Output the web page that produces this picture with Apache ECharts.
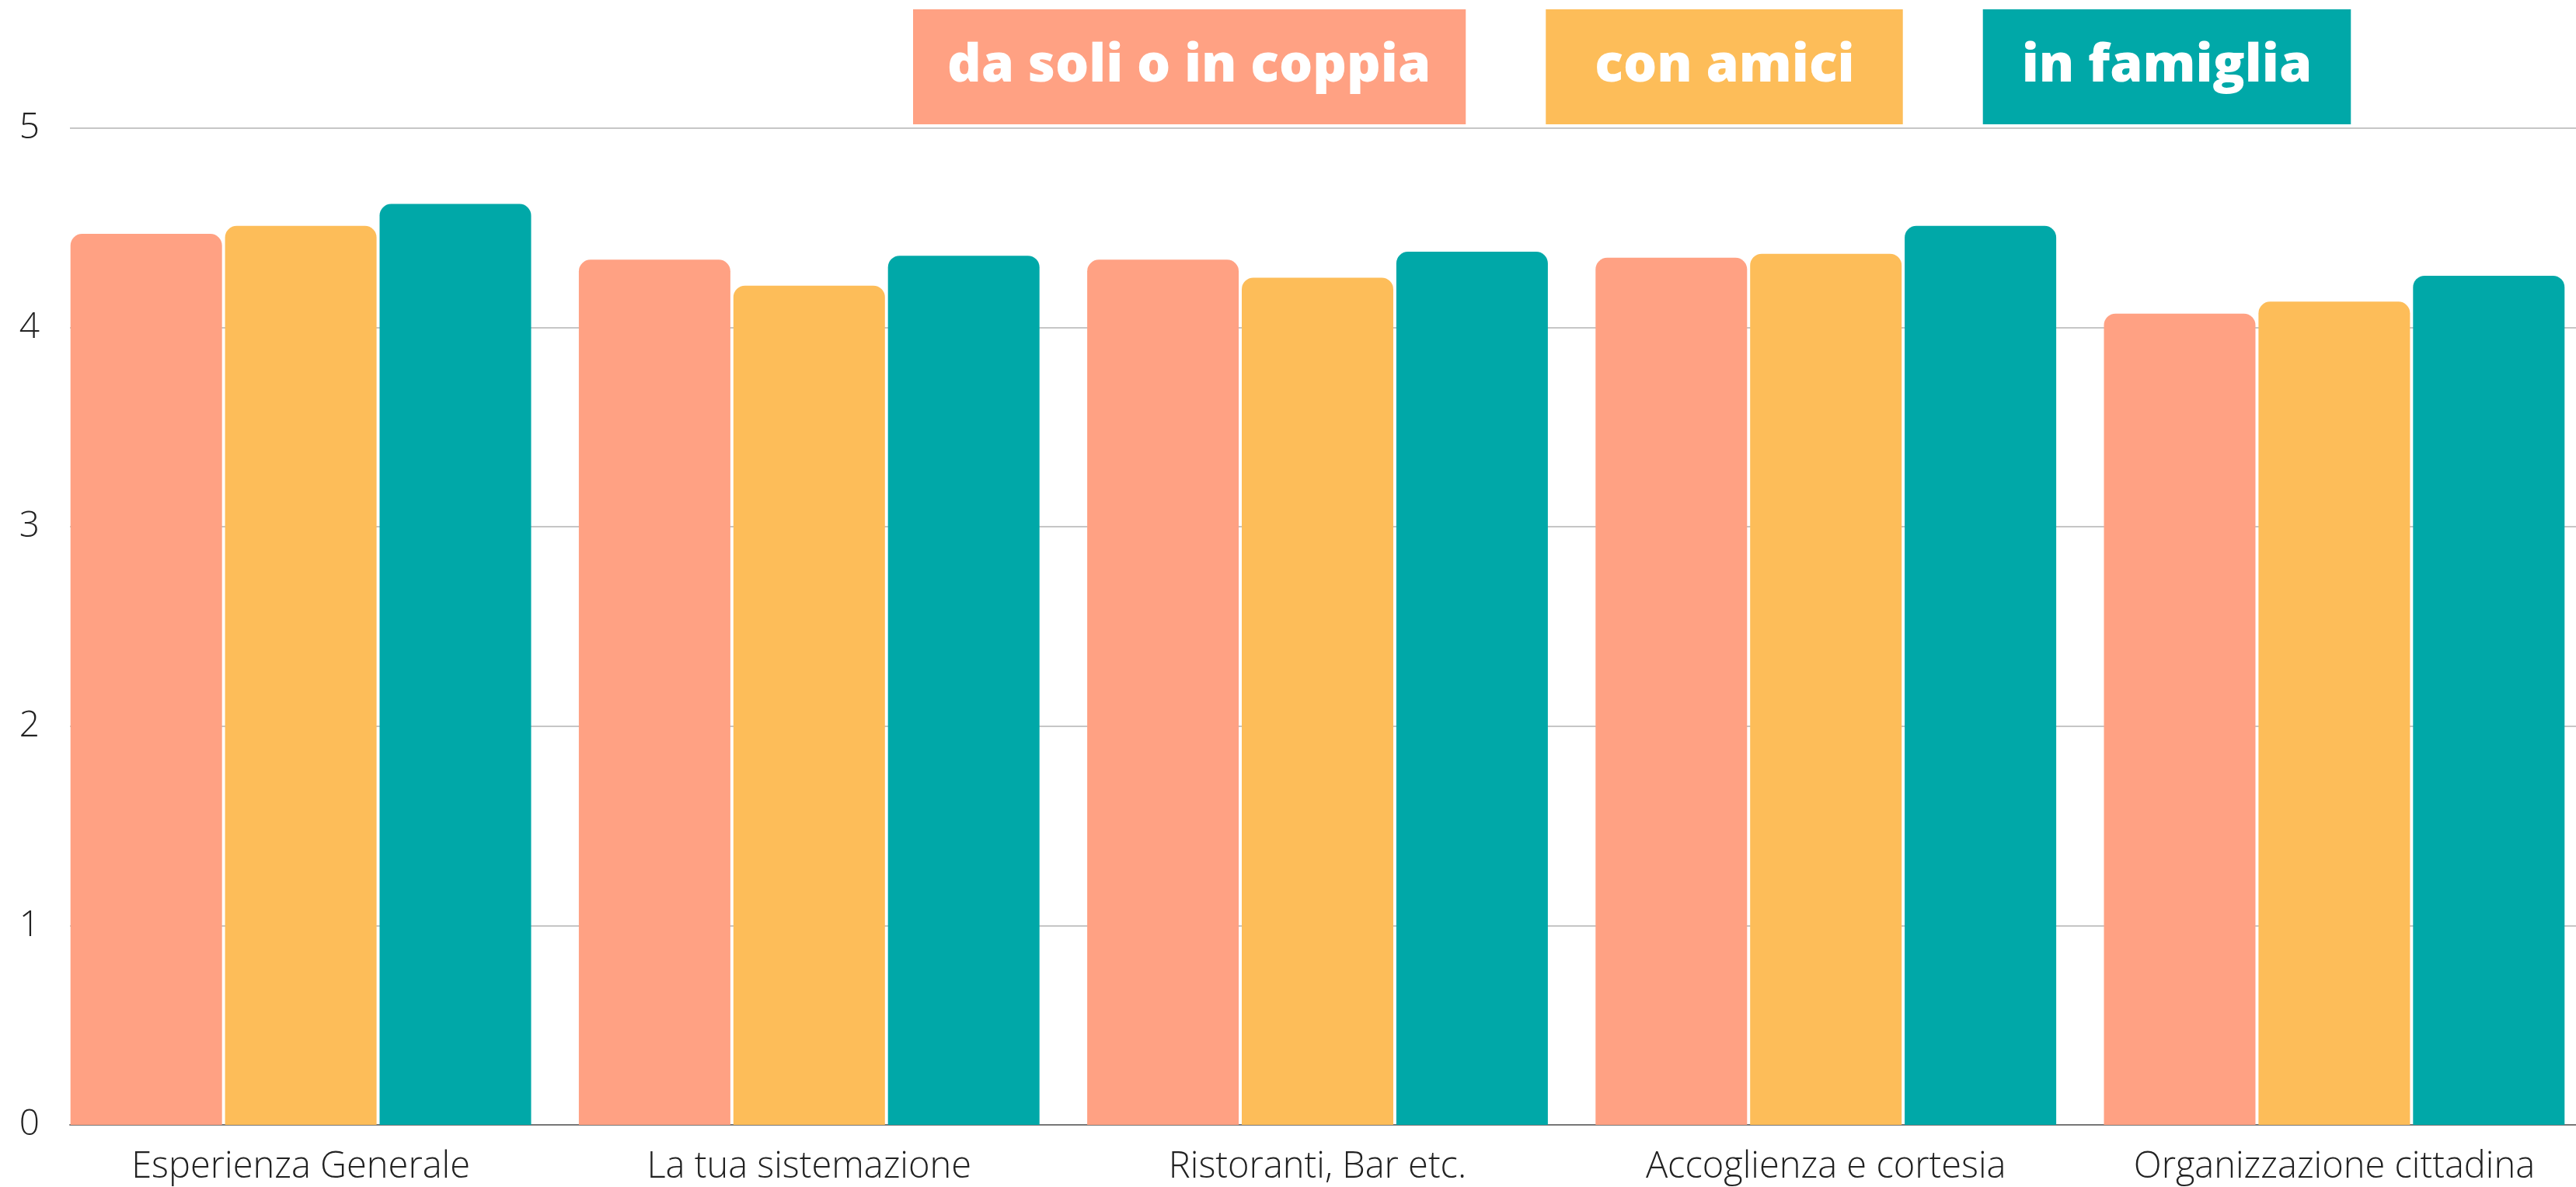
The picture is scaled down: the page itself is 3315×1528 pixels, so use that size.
<!DOCTYPE html>
<html>
<head>
<meta charset="utf-8">
<script src="https://cdn.jsdelivr.net/npm/echarts@6/dist/echarts.min.js"></script>
<style>
  html, body { margin: 0; padding: 0; background: #fff; overflow: hidden; }
  /* il div è un po' più largo della finestra: l'ultimo gruppo esce a destra */
  #chart { width: 3340px; height: 1528px; }
</style>
</head>
<body>
<div id="chart"></div>
<script>
const categories = [
  "Esperienza Generale",
  "La tua sistemazione",
  "Ristoranti, Bar etc.",
  "Accoglienza e cortesia",
  "Organizzazione cittadina",
];
const soliCoppia = [4.47, 4.34, 4.34, 4.35, 4.07];
const conAmici = [4.51, 4.21, 4.25, 4.37, 4.13];
const inFamiglia = [4.62, 4.36, 4.38, 4.51, 4.26];
const yTicks = [0, 1, 2, 3, 4, 5];

const colors = ["#FFA183", "#FDBD59", "#00A8A8"];
const labelFont = "'Open Sans', 'Noto Sans', sans-serif";

const chart = echarts.init(document.getElementById("chart"));

function legendItem(name, color, pad) {
  return {
    name: name,
    textStyle: {
      color: "#fff",
      backgroundColor: color,
      padding: pad,
    },
  };
}

const option = {
  animation: false,
  color: colors,
  legend: {
    top: 12,
    left: 1170,
    padding: 0,
    icon: "none",
    itemWidth: 0,
    itemHeight: 0,
    itemGap: 98,
    selectedMode: false,
    textStyle: {
      fontFamily: "'Open Sans', Lato, sans-serif",
      fontWeight: 800,
      fontSize: 68,
      lineHeight: 68,
    },
    data: [
      legendItem("da soli o in coppia", colors[0], [40, 45, 40, 44]),
      legendItem("con amici", colors[1], [40, 62, 40, 63]),
      legendItem("in famiglia", colors[2], [40, 50, 40, 50]),
    ],
  },
  // grid 0: barre, grid 1: linee griglia + etichette y
  grid: [
    { left: 60, right: 9, top: 165, bottom: 80 },
    { left: 90, right: 25, top: 165, bottom: 80 },
  ],
  xAxis: [
    {
      gridIndex: 0,
      type: "category",
      data: categories,
      axisLine: { show: false },
      axisTick: { show: false },
      axisLabel: {
        margin: 31,
        color: "#222",
        fontFamily: labelFont,
        fontWeight: 300,
        fontSize: 47,
        interval: 0,
      },
    },
    {
      gridIndex: 1,
      type: "value",
      min: 0,
      max: 1,
      axisLine: { show: true, lineStyle: { color: "#777", width: 2 } },
      axisTick: { show: false },
      axisLabel: { show: false },
      splitLine: { show: false },
    },
  ],
  yAxis: [
    {
      gridIndex: 0,
      type: "value",
      min: 0,
      max: 5,
      show: false,
    },
    {
      gridIndex: 1,
      type: "value",
      min: yTicks[0],
      max: yTicks[yTicks.length - 1],
      interval: 1,
      axisLine: { show: false },
      axisTick: { show: false },
      axisLabel: {
        margin: 39,
        color: "#222",
        fontFamily: labelFont,
        fontWeight: 300,
        fontSize: 46,
      },
      splitLine: { lineStyle: { color: "#c6c6c6", width: 2 } },
    },
  ],
  series: [
    {
      name: "da soli o in coppia",
      type: "bar",
      barWidth: 195,
      barGap: "2%",
      itemStyle: { borderRadius: [15, 15, 0, 0] },
      data: soliCoppia,
    },
    {
      name: "con amici",
      type: "bar",
      barWidth: 195,
      barGap: "2%",
      itemStyle: { borderRadius: [15, 15, 0, 0] },
      data: conAmici,
    },
    {
      name: "in famiglia",
      type: "bar",
      barWidth: 195,
      barGap: "2%",
      itemStyle: { borderRadius: [15, 15, 0, 0] },
      data: inFamiglia,
    },
  ],
};

chart.setOption(option);
</script>
</body>
</html>
